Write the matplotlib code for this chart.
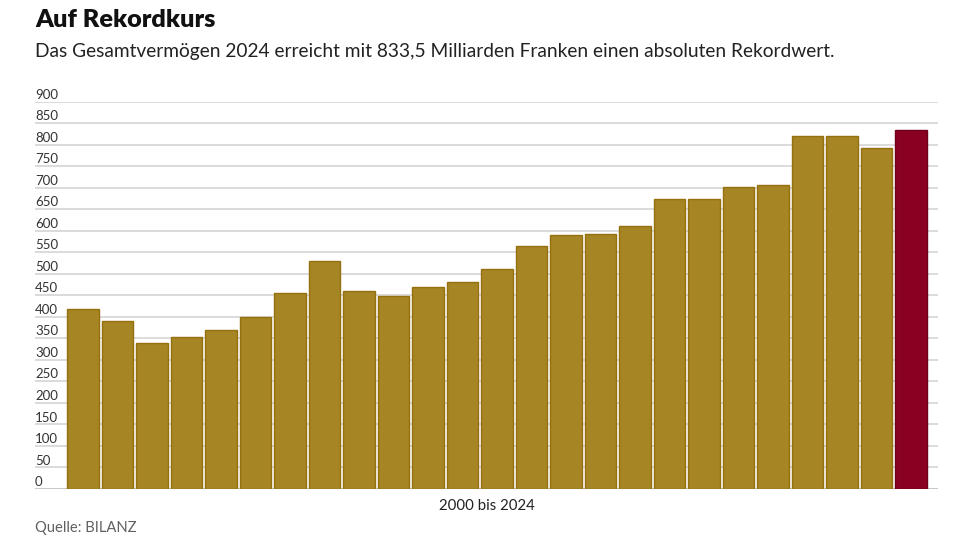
import numpy as np
import matplotlib.pyplot as plt
from matplotlib import transforms

# %% Data (Gesamtvermögen, Mrd. Franken)
years = list(range(2000, 2025))
values = [419, 390, 339, 352, 369, 399, 455, 529, 459, 448,
          469, 480, 511, 564, 589, 593, 612, 674, 674, 701,
          707, 821, 819, 793, 833.5]
y_ticks = list(range(0, 901, 50))

gold = '#A68524'
gold_edge = '#94700F'
red = '#8A0022'
red_edge = '#6E001B'

plt.rcParams['font.family'] = ['Lato', 'DejaVu Sans']

# %% Figure
fig = plt.figure(figsize=(9.6, 5.4), dpi=100)
ax = fig.add_axes([35 / 960, 51 / 540, 903 / 960, 387.5 / 540])

x = np.arange(len(years))
colors = [gold] * (len(years) - 1) + [red]
edges = [gold_edge] * (len(years) - 1) + [red_edge]
ax.bar(x, values, width=0.92, color=colors, edgecolor=edges,
       linewidth=1.0, zorder=3)

ax.set_xlim(-1.39, 24.78)
ax.set_ylim(0, 900)

# gridlines + labels sitting on top of them
trans = transforms.blended_transform_factory(ax.transAxes, ax.transData)
for t in y_ticks:
    lc = '#bdbdbd' if t == 0 else '#d4d4d4'
    ax.axhline(t, color=lc, linewidth=1.2, zorder=1)
    ax.text(0.0, t + 2, str(t), transform=trans, ha='left', va='bottom',
            fontsize=9.5, color='#333333', zorder=4)

ax.set_xticks([])
ax.set_yticks([])
for s in ax.spines.values():
    s.set_visible(False)

ax.text(0.5, -0.025, '2000 bis 2024', transform=ax.transAxes,
        ha='center', va='top', fontsize=10.8, color='#222222')

# %% Titles and source
fig.text(35 / 960, 1 - 9 / 540, 'Auf Rekordkurs', ha='left', va='top',
         fontsize=18.2, fontweight='heavy', color='#111111')
fig.text(35 / 960, 1 - 52 / 540,
         'Das Gesamtvermögen 2024 erreicht mit 833,5 Milliarden Franken '
         'einen absoluten Rekordwert.',
         ha='left', va='center', fontsize=13.8, color='#222222')
fig.text(35 / 960, 1 - 528 / 540, 'Quelle: BILANZ', ha='left',
         va='center', fontsize=10.6, color='#606060')

fig.savefig('out.png', dpi=100)
